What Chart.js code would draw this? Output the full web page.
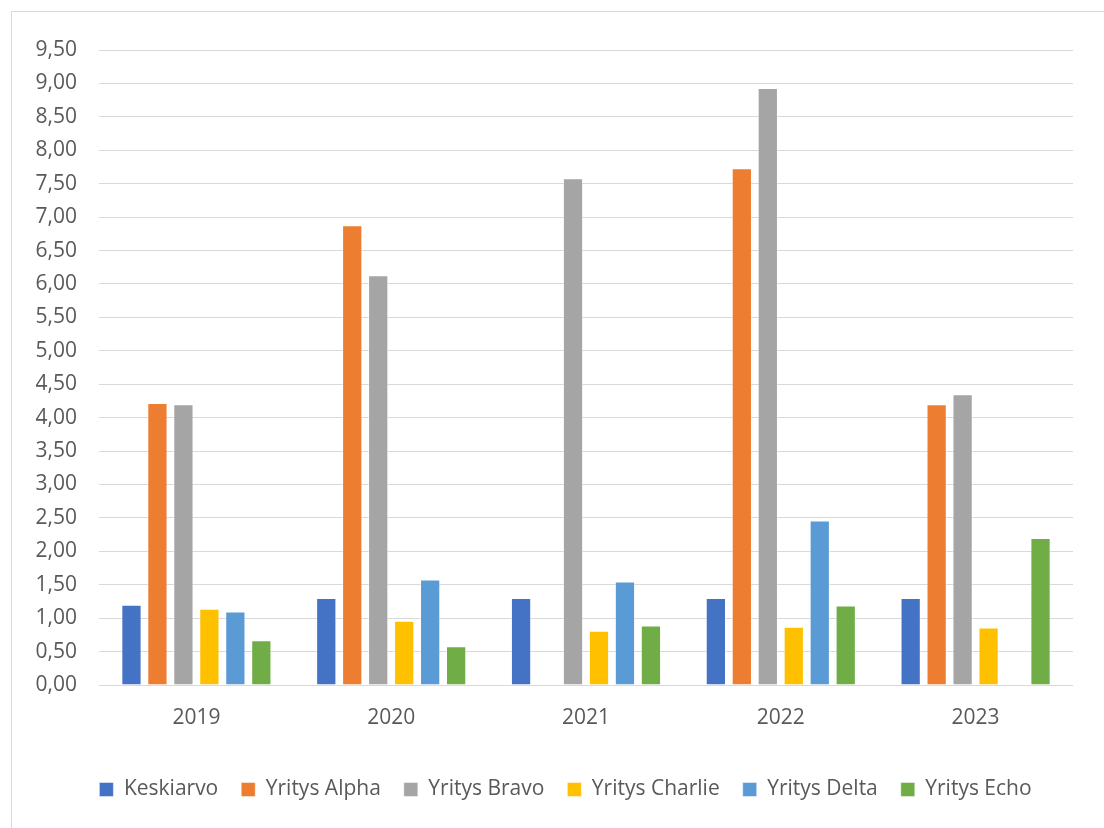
<!DOCTYPE html>
<html>
<head>
<meta charset="utf-8">
<script src="https://cdn.jsdelivr.net/npm/chart.js@4/dist/chart.umd.min.js"></script>
<style>
   html, body {
      margin: 0;
      padding: 0;
      background: #ffffff;
      overflow: hidden;
   }
   #frame {
      position: absolute;
      left: 11px;
      top: 11px;
      width: 1108px;
      height: 830px;
      border: 1px solid #d9d9d9;
      box-sizing: border-box;
   }
   #chart {
      display: block;
   }
</style>
</head>
<body>
<div id="frame">
   <canvas id="chart" width="1106" height="828"></canvas>
</div>
<script>
'use strict';

const years = ['2019', '2020', '2021', '2022', '2023'];
const seriesNames = ['Keskiarvo', 'Yritys Alpha', 'Yritys Bravo', 'Yritys Charlie', 'Yritys Delta', 'Yritys Echo'];
const keskiarvo = [1.20, 1.30, 1.30, 1.30, 1.30];
const alpha = [4.22, 6.88, null, 7.73, 4.20];
const bravo = [4.20, 6.13, 7.58, 8.93, 4.35];
const charlie = [1.14, 0.96, 0.81, 0.87, 0.86];
const delta = [1.10, 1.58, 1.55, 2.46, null];
const echo = [0.67, 0.58, 0.89, 1.19, 2.20];
const seriesColors = ['#4472C4', '#ED7D31', '#A5A5A5', '#FFC000', '#5B9BD5', '#70AD47'];

const yMax = 9.5;
const yStep = 0.5;

const textColor = '#595959';
const gridColor = '#d9d9d9';
const fontFamily = '"Open Sans", "Noto Sans", sans-serif';
const fontSize = 21;

function getDatasets() {
   const values = [keskiarvo, alpha, bravo, charlie, delta, echo];
   return values.map(function (data, i) {
      return {
         label: seriesNames[i],
         data: data,
         backgroundColor: seriesColors[i],
         borderColor: 'rgba(255,255,255,0.45)',
         borderWidth: 1,
         borderSkipped: 'bottom',
         categoryPercentage: 0.8,
         barPercentage: 0.78
      };
   });
}

function formatTick(value) {
   return Number(value).toFixed(2).replace('.', ',');
}

// legend sits centred on the whole chart frame, not only on the plot width
const legendShift = {
   id: 'legendShift',
   afterLayout: function (chart) {
      if (chart.legend) {
         chart.legend.left += 23;
         chart.legend.right += 23;
      }
   }
};

const config = {
   type: 'bar',
   data: {
      labels: years,
      datasets: getDatasets()
   },
   options: {
      responsive: false,
      animation: false,
      layout: {
         padding: {
            top: 38,
            right: 45,
            bottom: 30,
            left: 0
         }
      },
      scales: {
         x: {
            grid: {
               display: false,
               drawTicks: false
            },
            border: {
               display: false
            },
            ticks: {
               color: textColor,
               padding: 20,
               font: {
                  family: fontFamily,
                  size: fontSize
               }
            },
            afterFit: function (scale) {
               scale.height = 71;
            }
         },
         y: {
            min: 0,
            max: yMax,
            grid: {
               color: gridColor,
               lineWidth: 1,
               drawTicks: false
            },
            border: {
               display: false
            },
            ticks: {
               stepSize: yStep,
               color: textColor,
               padding: 22,
               font: {
                  family: fontFamily,
                  size: fontSize
               },
               callback: formatTick
            },
            afterFit: function (scale) {
               scale.width = 87;
            }
         }
      },
      plugins: {
         legend: {
            display: true,
            position: 'bottom',
            labels: {
               color: textColor,
               boxWidth: 14,
               boxHeight: 14,
               padding: 23,
               font: {
                  family: fontFamily,
                  size: fontSize
               }
            }
         },
         tooltip: {
            enabled: false
         }
      }
   },
   plugins: [legendShift]
};

new Chart(document.getElementById('chart'), config);
</script>
</body>
</html>
